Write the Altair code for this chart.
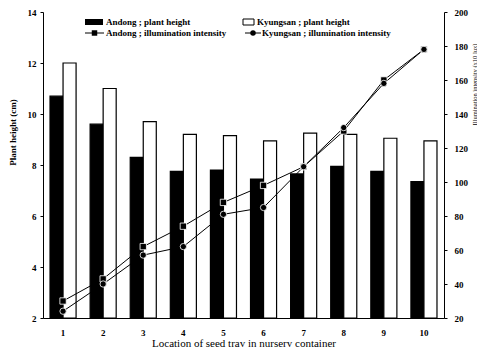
import altair as alt
import pandas as pd

locations = [1, 2, 3, 4, 5, 6, 7, 8, 9, 10]
series = ["Andong", "Kyungsan"]
andong_height = [10.7, 9.6, 8.3, 7.75, 7.8, 7.45, 7.65, 7.95, 7.75, 7.35]
kyungsan_height = [12.0, 11.0, 9.7, 9.2, 9.15, 8.95, 9.25, 9.2, 9.05, 8.95]
andong_light = [30, 43, 62, 74, 88, 98, 109, 130, 160, 178]
kyungsan_light = [24, 40, 57, 62, 81, 85, 109, 132, 158, 178]
right_ticks = [20, 40, 60, 80, 100, 120, 140, 160, 180, 200]
left_ticks = [2, 4, 6, 8, 10, 12, 14]
x_title = "Location of seed tray in nursery container"
y_left_title = "Plant height (cm)"
y_right_title = "Illumination intensity (x10 lux)"
legend_labels = ["Andong ; plant height", "Kyungsan ; plant height",
                 "Andong ; illumination intensity", "Kyungsan ; illumination intensity"]

FONT = "Liberation Serif"

bars_df = pd.DataFrame({
    "loc": locations * 2,
    "series": ["Andong"] * 10 + ["Kyungsan"] * 10,
    "height": andong_height + kyungsan_height,
})
light_df = pd.DataFrame({
    "loc": locations * 2,
    "series": ["Andong"] * 10 + ["Kyungsan"] * 10,
    "light": andong_light + kyungsan_light,
})

x_enc = alt.X("loc:O", title=x_title,
              scale=alt.Scale(paddingInner=0.35, paddingOuter=0.175),
              axis=alt.Axis(labelAngle=0, ticks=False, labelPadding=10,
                            titleY=25, titleBaseline="middle", titleFontSize=11,
                            titleFontWeight="normal", titleFont=FONT))

bars = alt.Chart(bars_df).mark_bar(stroke="black", strokeWidth=1.2).encode(
    x=x_enc,
    xOffset=alt.XOffset("series:N", sort=series,
                        scale=alt.Scale(paddingInner=0, paddingOuter=0)),
    y=alt.Y("height:Q", title=y_left_title,
            scale=alt.Scale(domain=[2, 14], nice=False, zero=False),
            axis=alt.Axis(orient="left", values=left_ticks,
                          tickSize=3, labelPadding=4, grid=False, labelOverlap=False,
                          titleX=-31, titleY=120, titleAngle=270,
                          titleBaseline="middle", titleAlign="center",
                          titleFontSize=9, titleFontWeight="bold", titleFont=FONT)),
    y2=alt.datum(2),
    fill=alt.Fill("series:N", sort=series,
                  scale=alt.Scale(domain=series, range=["black", "white"]),
                  legend=None),
)

y_light = alt.Y("light:Q", title=y_right_title,
                scale=alt.Scale(domain=[20, 200], nice=False, zero=False),
                axis=alt.Axis(orient="right", values=right_ticks, tickCount=10,
                              tickSize=3, labelPadding=7, grid=False, labelOverlap=False,
                              labelBound=False,
                              titleX=30, titleY=72, titleAngle=270,
                              titleBaseline="middle", titleAlign="center",
                              titleFontSize=6.5, titleFontWeight="normal", titleFont=FONT))

lines = alt.Chart(light_df).mark_line(color="black", strokeWidth=1).encode(
    x=alt.X("loc:O"),
    y=y_light,
    detail="series:N",
)
points = alt.Chart(light_df).mark_point(filled=True, fill="black", stroke="white",
                                        strokeWidth=0.8, opacity=1, size=40).encode(
    x=alt.X("loc:O"),
    y=y_light,
    shape=alt.Shape("series:N", sort=series,
                    scale=alt.Scale(domain=series, range=["square", "circle"]),
                    legend=None),
)

# manual legend (2 x 2)
tx = [63, 214, 63, 219]
ty = [10, 10, 21, 21]
legend_texts = []
for i, lab in enumerate(legend_labels):
    legend_texts.append(
        alt.Chart(pd.DataFrame({"label": [lab]})).mark_text(
            align="left", baseline="middle", font=FONT, fontSize=9, fontWeight="bold"
        ).encode(x=alt.value(tx[i]), y=alt.value(ty[i]), text="label:N")
    )
leg_rect_a = alt.Chart(pd.DataFrame({"k": [0]})).mark_rect(fill="black").encode(
    x=alt.value(42), x2=alt.value(60), y=alt.value(7), y2=alt.value(13))
leg_rect_k = alt.Chart(pd.DataFrame({"k": [0]})).mark_rect(fill="white", stroke="black",
                                                            strokeWidth=1).encode(
    x=alt.value(200), x2=alt.value(211), y=alt.value(7), y2=alt.value(13))
leg_line_a = alt.Chart(pd.DataFrame({"k": [0]})).mark_rule(color="black").encode(
    x=alt.value(42), x2=alt.value(61), y=alt.value(21))
leg_line_k = alt.Chart(pd.DataFrame({"k": [0]})).mark_rule(color="black").encode(
    x=alt.value(202), x2=alt.value(218), y=alt.value(21))
leg_sq = alt.Chart(pd.DataFrame({"k": [0]})).mark_point(shape="square", filled=True,
                                                         fill="black", opacity=1, size=30).encode(
    x=alt.value(51.5), y=alt.value(21))
leg_ci = alt.Chart(pd.DataFrame({"k": [0]})).mark_point(shape="circle", filled=True,
                                                         fill="black", opacity=1, size=30).encode(
    x=alt.value(210), y=alt.value(21))

chart = alt.layer(
    bars,
    alt.layer(lines, points),
    leg_rect_a, leg_rect_k, leg_line_a, leg_line_k, leg_sq, leg_ci,
    *legend_texts,
).resolve_scale(y="independent").properties(
    width=401, height=306,
    autosize=alt.AutoSizeParams(type="none"),
    padding={"left": 35, "top": 4, "right": 33, "bottom": 29},
    background="white",
).configure_view(stroke=None).configure_axis(
    domainColor="black", tickColor="black", labelColor="black", titleColor="black",
    labelFont=FONT, labelFontSize=9, labelFontWeight="bold",
)

chart.save("out.html", embed_options={"renderer": "svg", "actions": False})
